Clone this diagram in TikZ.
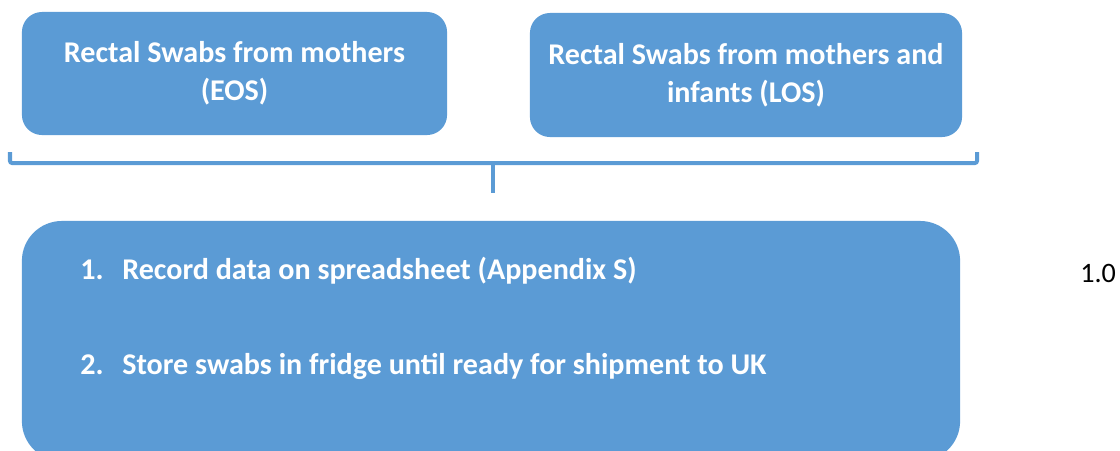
\documentclass[tikz,border=0pt]{standalone}
\usepackage{fontspec}
\setmainfont{Carlito}
\definecolor{swabblue}{RGB}{91,155,213}
\tikzset{
  swabbox/.style={fill=swabblue, rounded corners=0.5cm, inner sep=0pt, align=center,
    text=white, font=\bfseries\fontsize{21.4}{27}\selectfont},
  stepsbox/.style={fill=swabblue, rounded corners=1cm, inner sep=0pt,
    minimum width=23.45cm, minimum height=6cm},
  steptext/.style={anchor=base west, inner sep=0pt, text=white,
    font=\bfseries\fontsize{21.4}{27}\selectfont},
  bracketline/.style={draw=swabblue, line width=0.1cm, rounded corners=1.5pt}
}
\begin{document}
\begin{tikzpicture}[x=0.025cm, y=-0.025cm]
                \useasboundingbox (0,0) rectangle (1120,450);
                \node[swabbox, minimum width=10.625cm, minimum height=3.075cm] (eos) at (234.5,73.5)
                  {Rectal Swabs from mothers\\(EOS)};
                \node[swabbox, minimum width=10.8cm, minimum height=3.1cm] (los) at (746,75)
                  {Rectal Swabs from mothers and\\infants (LOS)};
                \node[stepsbox] (steps) at (491,341) {};
                \node[steptext] (record) at (80,279) {\makebox[1.05cm][l]{1.}Record data on spreadsheet (Appendix S)};
                \node[steptext] (store) at (80,374) {\makebox[1.05cm][l]{2.}Store swabs in fridge until ready for shipment to UK};
                \node[anchor=base west, inner sep=0pt, font=\fontsize{20}{24}\selectfont] (version) at (1080,282) {1.0};
                \coordinate (brL) at (10,152);
                \coordinate (brR) at (977,152);
                \coordinate (brM) at (493,163);
                \coordinate (brS) at (493,193);
                \draw[bracketline] (brL) |- (brM) -| (brR);
                \draw[bracketline] (brM) -- (brS);
            \end{tikzpicture}
\end{document}
